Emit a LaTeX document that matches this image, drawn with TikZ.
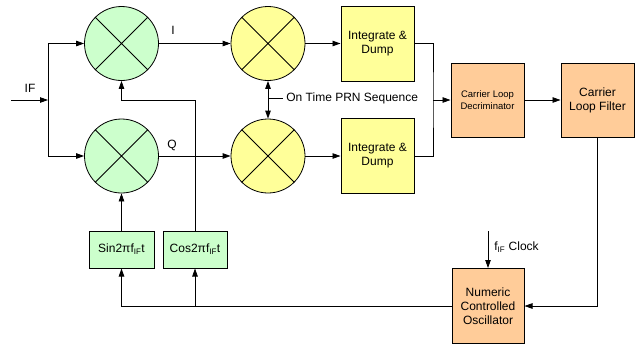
\documentclass[tikz,border=0pt]{standalone}
\usepackage{fontspec}
\setmainfont{Liberation Sans}
\usetikzlibrary{arrows.meta}
\definecolor{grn}{HTML}{CCFFCC}
\definecolor{yel}{HTML}{FFFF99}
\definecolor{org}{HTML}{FFCC99}
\begin{document}
\begin{tikzpicture}[x=1pt,y=-1pt,line width=0.8pt,
  arr/.style={-{Triangle[length=8pt,width=5.5pt]}},
  arrb/.style={{Triangle[length=8pt,width=5.5pt]}-{Triangle[length=8pt,width=5.5pt]}},
  mixer/.style={circle,draw,minimum size=74pt,inner sep=0pt},
  blk/.style={draw,line width=1pt,inner sep=1pt,align=center,font=\fontsize{12}{14}\selectfont},
  lbl/.style={inner sep=0pt,font=\fontsize{12}{14}\selectfont}]
\useasboundingbox (0,0) rectangle (637,346);
% mixers
\node[mixer,fill=grn] (g1) at (121.5,43.5) {};
\node[mixer,fill=grn] (g2) at (121.5,156) {};
\node[mixer,fill=yel] (y1) at (268,43.5) {};
\node[mixer,fill=yel] (y2) at (268,156) {};
\foreach \m in {g1,g2,y1,y2}{\draw (\m.45) -- (\m.225) (\m.135) -- (\m.315);}
% blocks
\node[blk,fill=yel,minimum width=73pt,minimum height=75pt] (id1) at (377.5,43.5) {Integrate \&\\Dump};
\node[blk,fill=yel,minimum width=73pt,minimum height=75pt] (id2) at (377.5,156) {Integrate \&\\Dump};
\node[blk,fill=org,minimum width=73pt,minimum height=74pt,font=\fontsize{9.5}{12}\selectfont] (dec) at (487.5,100) {Carrier Loop\\Decriminator};
\node[blk,fill=org,minimum width=73pt,minimum height=74pt] (filt) at (597.5,100) {Carrier\\Loop Filter};
\node[blk,fill=org,minimum width=72pt,minimum height=75pt] (nco) at (488,306) {Numeric\\Controlled\\Oscillator};
\node[blk,fill=grn,minimum width=65pt,minimum height=37pt] (sin) at (121.5,249.5) {Sin2πf\textsubscript{IF}t};
\node[blk,fill=grn,minimum width=64pt,minimum height=37pt] (cos) at (195,249.5) {Cos2πf\textsubscript{IF}t};
% coordinates
\coordinate (in) at (11,100);
\coordinate (j) at (48,100);
\coordinate (jt) at (48,43.5);
\coordinate (jb) at (48,156);
\coordinate (prn) at (268,98);
\coordinate (cm) at (433,100);
\coordinate (clk) at (488,231);
% connectors
\draw[arr] (in) -- (j);
\draw (jt) -- (jb);
\draw[arr] (jt) -- (g1);
\draw[arr] (jb) -- (g2);
\draw[arr] (g1) -- (y1);
\draw[arr] (g2) -- (y2);
\draw[arr] (cos.north) -- (cos.north |- j) -| (g1.south);
\draw[arr] (sin) -- (g2);
\draw[arr] (y1) -- (id1);
\draw[arr] (y2) -- (id2);
\draw[arrb] (y1) -- (y2);
\draw (prn) -- ++(15,0) node[lbl,right=3pt] {On Time PRN Sequence};
\draw (id1.east) -| (cm) |- (id2.east);
\draw[arr] (cm) -- (dec);
\draw[arr] (dec) -- (filt);
\draw[arr] (filt.south) |- (nco.east);
\draw[arr] (nco.west) -| (sin.south);
\draw[arr] (cos.south |- nco.west) -- (cos.south);
\draw[arr] (clk) -- (nco.north);
\node[lbl] (il) at (173,30) {I};
\node[lbl] (ql) at (172,145.5) {Q};
\node[lbl,anchor=west] (clkl) at (494,247) {f\textsubscript{IF} Clock};
\node[lbl] (ifl) at (30,88) {IF};
\end{tikzpicture}
\end{document}
